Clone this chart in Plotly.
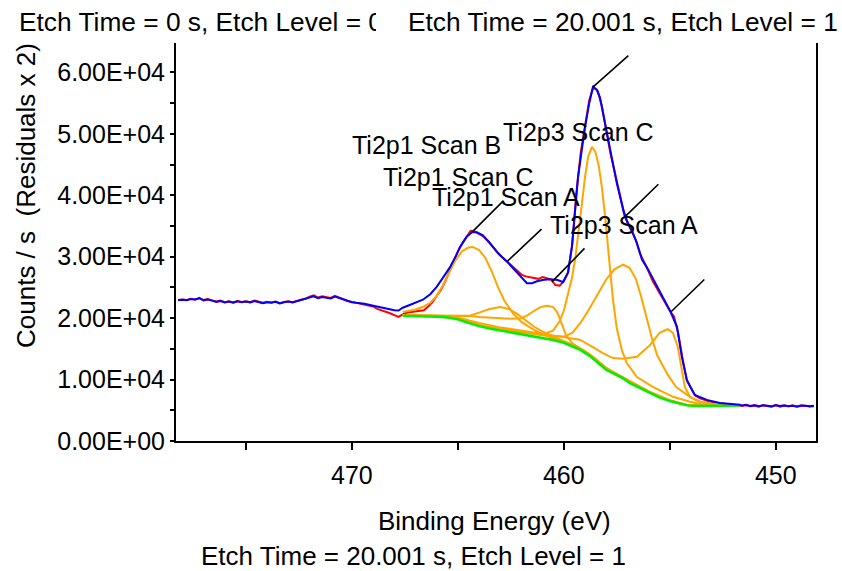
import plotly.graph_objects as go

# ---------------- data ----------------
# raw spectrum (red)
red_E = [478.2, 478.0, 477.8, 477.6, 477.4, 477.2, 477.0, 476.8, 476.6, 476.4, 476.2, 476.0, 475.8, 475.6,
         475.4, 475.2, 475.0, 474.8, 474.6, 474.4, 474.2, 474.0, 473.8, 473.6, 473.4, 473.2, 473.0, 472.8,
         472.6, 472.4, 472.2, 472.0, 471.8, 471.6, 471.4, 471.2, 471.0, 470.8, 470.6, 470.4, 470.2, 470.0,
         469.8, 469.6, 469.4, 469.2, 469.0, 468.8, 468.6, 468.4, 468.2, 468.0, 467.8,
         467.6, 467.4, 467.2, 467.0, 466.8, 466.6, 466.4, 466.2, 466.0, 465.8, 465.6, 465.4, 465.2, 465.0,
         464.8, 464.6, 464.4, 464.2, 464.0, 463.8, 463.6, 463.4, 463.2, 463.0, 462.8, 462.6, 462.4, 462.2,
         462.0, 461.8, 461.6, 461.4, 461.2, 461.0, 460.8, 460.6, 460.4, 460.2, 460.0, 459.8, 459.6, 459.4,
         459.2, 459.0, 458.8, 458.6, 458.4, 458.2, 458.0, 457.8, 457.6, 457.4, 457.2, 457.0, 456.8, 456.6,
         456.4, 456.2, 456.0, 455.8, 455.6, 455.4, 455.2, 455.0, 454.8, 454.6, 454.4, 454.2, 454.0, 453.8,
         453.6, 453.4, 453.2, 453.0, 452.8, 452.6, 452.4, 452.2, 452.0, 451.8,
         451.6, 451.4, 451.2, 451.0, 450.8, 450.6, 450.4, 450.2, 450.0, 449.8, 449.6, 449.4, 449.2, 449.0,
         448.8, 448.6, 448.4, 448.2]
red_counts = [22900, 23050, 22950, 23150, 23000, 23300, 22950, 23100, 22900, 22700, 22850, 22600, 22750, 22550,
              22800, 22650, 22750, 22600, 22850, 22700, 22500, 22650, 22550, 22700, 22450, 22650, 22750, 22600,
              22850, 23000, 23150, 23500, 23700, 23350, 23550, 23400, 23300, 23650, 23350, 23100, 22800, 22650,
              22500, 22450, 22300, 22100, 21900, 21500, 21300, 21000, 20800, 20500, 20200,
              20600, 20900, 21000, 21100, 21200, 21300, 21900, 22600, 23600, 24600, 26000, 27700, 29400, 30800,
              32100, 33200, 34200, 34100, 33700, 33300, 32600, 31800, 30900, 30200, 29600, 29000, 28300, 27700,
              27100, 26800, 26700, 26600, 26400, 26700, 26500, 26300, 25400, 25300, 26000, 27500, 32000, 40500,
              47000, 51500, 55500, 57700, 57000, 54500, 50500, 46800, 43800, 40800, 37800, 35600, 34100, 32700,
              30500, 29100, 27600, 26000, 24800, 23400, 22200, 21200, 20300, 17500, 13500, 9900, 8600, 7400,
              7000, 6700, 6500, 6300, 6200, 6150, 6000, 5950, 5900, 5850,
              5700, 5800, 5650, 5750, 5600, 5800, 5700, 5650, 5800, 5600, 5750, 5650, 5800, 5600,
              5700, 5750, 5600, 5650]

# envelope / fitted spectrum (blue)
blue_E = [478.2, 478.0, 477.8, 477.6, 477.4, 477.2, 477.0, 476.8, 476.6, 476.4, 476.2, 476.0, 475.8, 475.6,
          475.4, 475.2, 475.0, 474.8, 474.6, 474.4, 474.2, 474.0, 473.8, 473.6, 473.4, 473.2, 473.0, 472.8,
          472.6, 472.4, 472.2, 472.0, 471.8, 471.6, 471.4, 471.2, 471.0, 470.8, 470.6, 470.4, 470.2, 470.0,
          469.8, 469.6, 469.4, 469.2, 469.0, 468.8, 468.6, 468.4, 468.2, 468.0, 467.8,
          467.6, 467.3, 467.0, 466.65, 466.3, 466.0, 465.7, 465.37, 465.1, 464.9, 464.6, 464.33, 464.1,
          463.82, 463.5, 463.11, 462.68, 462.2, 461.74, 461.5, 461.27, 461.0, 460.8, 460.5, 460.3, 460.04,
          459.8, 459.62, 459.33, 459.0, 458.8, 458.63, 458.45, 458.3, 457.97, 457.5, 457.12, 456.74, 456.55,
          456.31, 456.08, 455.47, 455.0, 454.66, 454.43, 454.19, 453.82, 453.25, 452.64, 451.69,
          451.6, 451.4, 451.2, 451.0, 450.8, 450.6, 450.4, 450.2, 450.0, 449.8, 449.6, 449.4, 449.2, 449.0,
          448.8, 448.6, 448.4, 448.2]
blue_counts = [22950, 23000, 22900, 23100, 23050, 23250, 22900, 23050, 22850, 22650, 22800, 22550, 22700, 22500,
               22750, 22600, 22700, 22550, 22800, 22650, 22450, 22600, 22500, 22650, 22400, 22600, 22700, 22550,
               22750, 22900, 23050, 23350, 23550, 23250, 23450, 23300, 23200, 23500, 23250, 23000, 22750, 22600,
               22500, 22450, 22350, 22200, 22050, 21850, 21750, 21600, 21450, 21300, 21250,
               21700, 22100, 22500, 23000, 23900, 25100, 26600, 28300, 30100, 31600, 33200, 34000, 34000,
               33500, 32300, 30600, 29200, 27400, 25700, 25700, 26000, 26200, 26300, 26300, 26200, 25900,
               27400, 31600, 43000, 51100, 55000, 57600, 57200, 56000, 50200, 42000, 36500, 33900, 32200,
               29500, 28300, 24300, 21300, 18600, 13700, 9900, 7500, 6700, 6200, 5900,
               5800, 5900, 5700, 5850, 5650, 5800, 5750, 5600, 5850, 5700, 5800, 5650, 5750, 5600,
               5800, 5700, 5650, 5750]

# Shirley background (green)
bg_E = [467.6, 467.0, 466.5, 466.0, 465.7, 465.4, 465.0, 464.7, 464.4, 464.0, 463.5, 463.0, 462.4, 462.0,
        461.5, 461.1, 460.5, 460.0, 459.6, 459.2, 458.8, 458.4, 458.0, 457.6, 457.2, 456.9, 456.5, 456.0,
        455.5, 455.0, 454.6, 454.2, 453.8, 453.0, 452.0, 451.7]
bg_counts = [20400, 20350, 20300, 20250, 20200, 20050, 19800, 19450, 19100, 18700, 18300, 18000, 17700, 17450,
             17150, 16900, 16450, 16000, 15450, 14800, 13900, 12800, 11600, 10900, 10200, 9450, 8800, 7900,
             7100, 6500, 6100, 5800, 5700, 5700, 5750, 5800]

# fitted components (orange), drawn on top of the background
ti2p1_c_E = [467.6, 467.0, 466.6, 466.3, 466.0, 465.7, 465.4, 465.1, 464.8, 464.5, 464.3, 464.0, 463.7, 463.4,
             463.1, 462.8, 462.4, 462.0, 461.6, 461.2, 460.8, 460.4, 460.0, 459.5, 459.0, 458.5, 458.0, 457.0,
             456.0, 455.0, 454.2, 453.5, 452.5, 451.7]
ti2p1_c = [21000, 21400, 21900, 22500, 23600, 25400, 27500, 29500, 30900, 31500, 31600, 31100, 29800, 27600,
           25000, 22800, 20800, 19400, 18500, 17700, 17100, 16600, 16200, 15600, 14600, 13300, 11900, 10000,
           8100, 6650, 5900, 5800, 5800, 5850]

ti2p1_a_E = [467.6, 467.0, 466.5, 466.0, 465.5, 465.0, 464.4, 464.0, 463.5, 463.0, 462.6, 462.2, 461.8, 461.4,
             461.0, 460.5, 460.0, 459.5, 459.0, 458.5, 458.0, 457.0, 456.0, 455.0, 454.2, 453.5, 452.5, 451.7]
ti2p1_a = [20500, 20450, 20400, 20400, 20400, 20400, 20450, 20900, 21500, 21800, 21500, 20700, 19600, 18600,
           17800, 17000, 16300, 15500, 14500, 13100, 11800, 9900, 8000, 6600, 5850, 5750, 5780, 5820]

ti2p1_b_E = [467.6, 467.0, 466.0, 465.0, 464.4, 464.0, 463.5, 463.0, 462.5, 462.0, 461.7, 461.4, 461.1, 460.8,
             460.5, 460.3, 460.1, 459.9, 459.6, 459.2, 458.8, 458.4, 458.0, 457.0, 456.0, 455.0, 454.2, 453.5,
             452.5, 451.7]
ti2p1_b = [20450, 20420, 20400, 20400, 20350, 20200, 20100, 20000, 19900, 20000, 20500, 21200, 21800, 22000,
           21800, 20900, 19200, 17300, 15900, 15100, 14200, 13100, 11900, 9800, 7950, 6600, 5850, 5750,
           5780, 5820]

ti2p3_b_E = [467.6, 466.0, 465.0, 464.0, 463.0, 462.0, 461.0, 460.5, 460.2, 460.0, 459.8, 459.62, 459.47, 459.3,
             459.15, 459.0, 458.85, 458.67, 458.5, 458.35, 458.2, 458.05, 457.92, 457.8, 457.68, 457.5, 457.26,
             457.03, 456.55, 455.8, 454.85, 454.05, 453.5, 452.5, 451.7]
ti2p3_b = [20450, 20300, 19900, 18850, 18200, 17700, 17300, 18000, 19500, 21200, 24000, 26500, 29500, 34000,
           38500, 43000, 46300, 47900, 47000, 44800, 41200, 36500, 31500, 27000, 23000, 18300, 14800,
           12700, 10400, 8800, 7200, 6400, 6000, 5850, 5850]

ti2p3_c_E = [467.6, 466.0, 465.0, 464.0, 463.0, 462.0, 461.0, 460.5, 460.0, 459.6, 459.2, 458.8, 458.4, 458.0,
             457.6, 457.2, 456.9, 456.6, 456.35, 456.1, 455.85, 455.6, 455.3, 455.1, 454.7, 454.05, 453.6,
             453.0, 452.5, 451.7]
ti2p3_c = [20450, 20350, 20000, 18900, 18200, 17700, 17200, 17100, 17000, 17600, 19300, 21500, 24000, 26300,
           28000, 28700, 28200, 26400, 23500, 20000, 16800, 14000, 12000, 10800, 8800, 7200, 6400,
           5950, 5850, 5850]

ti2p3_a_E = [467.6, 466.0, 465.0, 464.0, 463.0, 462.0, 461.0, 460.0, 459.6, 459.24, 458.63, 458.16, 457.68,
             457.2, 456.55, 455.94, 455.48, 455.1, 454.85, 454.62, 454.43, 454.29, 454.05, 453.58, 453.0,
             452.3, 451.7]
ti2p3_a = [20450, 20400, 20100, 19200, 18500, 18000, 17500, 17000, 16800, 16500, 15300, 14300, 13500,
           13400, 13700, 15600, 17600, 18200, 17600, 15300, 11600, 8800, 7200, 6400, 6050,
           5900, 5850]

x_tick_vals = [475, 470, 465, 460, 455, 450]
x_tick_text = ['', '470', '', '460', '', '450']
y_tick_vals = [0, 5000, 10000, 15000, 20000, 25000, 30000, 35000, 40000, 45000, 50000, 55000, 60000]
y_tick_text = ['0.00E+00', '', '1.00E+04', '', '2.00E+04', '', '3.00E+04', '', '4.00E+04', '', '5.00E+04', '',
               '6.00E+04']

# ---------------- figure ----------------
FONT = 'Liberation Sans, Arial, sans-serif'
X_RANGE = [478.3, 448.1]
Y_RANGE = [0, 64800]
L, R, T, B = 176, 26, 43, 130
W, H = 842, 571
PW, PH = W - L - R, H - T - B


def px(x):
    return (x - L) / PW


def py(y):
    return (H - B - y) / PH


fig = go.Figure()
fig.add_trace(go.Scatter(x=red_E, y=red_counts, mode='lines', line=dict(color='#ff0000', width=2),
                         hoverinfo='skip'))
for ex, ey in [(ti2p1_c_E, ti2p1_c), (ti2p1_a_E, ti2p1_a), (ti2p1_b_E, ti2p1_b),
               (ti2p3_b_E, ti2p3_b), (ti2p3_c_E, ti2p3_c), (ti2p3_a_E, ti2p3_a)]:
    fig.add_trace(go.Scatter(x=ex, y=ey, mode='lines', line=dict(color='#ffa500', width=2),
                             hoverinfo='skip'))
fig.add_trace(go.Scatter(x=bg_E, y=bg_counts, mode='lines', line=dict(color='#00ee00', width=2.5),
                         hoverinfo='skip'))
fig.add_trace(go.Scatter(x=blue_E, y=blue_counts, mode='lines', line=dict(color='#0000ff', width=2),
                         hoverinfo='skip'))

annotations = []
# leader lines
for (lx, ly, dx, dy) in [(458.63, 57600, 37, -33), (457.12, 36500, 35, -34), (464.33, 34000, 33, -33),
                         (462.68, 29200, 36, -34), (460.56, 25900, 34, -35), (454.95, 21000, 35, -34)]:
    annotations.append(dict(x=lx, y=ly, xref='x', yref='y', ax=dx, ay=dy, text='', showarrow=True,
                            arrowhead=0, arrowwidth=1.6, arrowcolor='black', standoff=0, startstandoff=0))
# peak labels
for (txt, xl, yc) in [('Ti2p1 Scan B', 350, 145), ('Ti2p3 Scan C', 501, 132), ('Ti2p1 Scan C', 381, 177),
                      ('Ti2p1 Scan A', 430, 197), ('Ti2p3 Scan A', 548, 225)]:
    annotations.append(dict(x=px(xl), y=py(yc), xref='paper', yref='paper', text=txt, showarrow=False,
                            xanchor='left', yanchor='middle', font=dict(family=FONT, size=25, color='black')))
# titles
annotations.append(dict(x=px(17), y=py(22), xref='paper', yref='paper', text='Etch Time = 0 s, Etch Level = 0',
                        showarrow=False, xanchor='left', yanchor='middle',
                        font=dict(family=FONT, size=26.3, color='black')))
annotations.append(dict(x=px(376), y=py(22), xref='paper', yref='paper', text=' ', width=28, height=38,
                        bgcolor='white', borderpad=0, borderwidth=0, showarrow=False, xanchor='left',
                        yanchor='middle', font=dict(family=FONT, size=26, color='white')))
annotations.append(dict(x=px(406), y=py(22), xref='paper', yref='paper',
                        text='Etch Time = 20.001 s, Etch Level = 1', showarrow=False, xanchor='left',
                        yanchor='middle', font=dict(family=FONT, size=26.3, color='black')))
annotations.append(dict(x=px(413), y=py(556), xref='paper', yref='paper',
                        text='Etch Time = 20.001 s, Etch Level = 1', showarrow=False, xanchor='center',
                        yanchor='middle', font=dict(family=FONT, size=26, color='black')))
annotations.append(dict(x=px(494), y=py(521), xref='paper', yref='paper', text='Binding Energy (eV)',
                        showarrow=False, xanchor='center', yanchor='middle',
                        font=dict(family=FONT, size=26, color='black')))
annotations.append(dict(x=px(26), y=py(196), xref='paper', yref='paper', text='Counts / s  (Residuals x 2)',
                        showarrow=False, xanchor='center', yanchor='middle', textangle=-90,
                        font=dict(family=FONT, size=26, color='black')))

axis_common = dict(showgrid=False, zeroline=False, tickcolor='black', tickwidth=2)
fig.update_layout(
    width=W, height=H, margin=dict(l=L, r=R, t=T, b=B),
    paper_bgcolor='white', plot_bgcolor='white', showlegend=False,
    font=dict(family=FONT, size=25, color='black'),
    xaxis=dict(range=X_RANGE, tickvals=x_tick_vals, ticktext=x_tick_text, ticks='outside', ticklen=7,
               showline=True, linewidth=2, linecolor='black', ticklabelstandoff=4,
               tickfont=dict(family=FONT, size=25, color='black'), **axis_common),
    yaxis=dict(range=Y_RANGE, tickvals=y_tick_vals, ticktext=y_tick_text, ticks='outside', ticklen=4,
               showline=True, linewidth=2, linecolor='black', mirror=True, ticklabelstandoff=0,
               tickfont=dict(family=FONT, size=25, color='black'), **axis_common),
    xaxis2=dict(range=X_RANGE, overlaying='x', anchor='y', side='bottom', tickvals=x_tick_vals,
                ticks='inside', ticklen=4, showticklabels=False, showline=False, **axis_common),
    yaxis2=dict(range=Y_RANGE, overlaying='y', anchor='x', side='left', tickvals=y_tick_vals,
                ticks='inside', ticklen=6, showticklabels=False, showline=False, **axis_common),
    annotations=annotations,
)

fig.write_html('out.html')
